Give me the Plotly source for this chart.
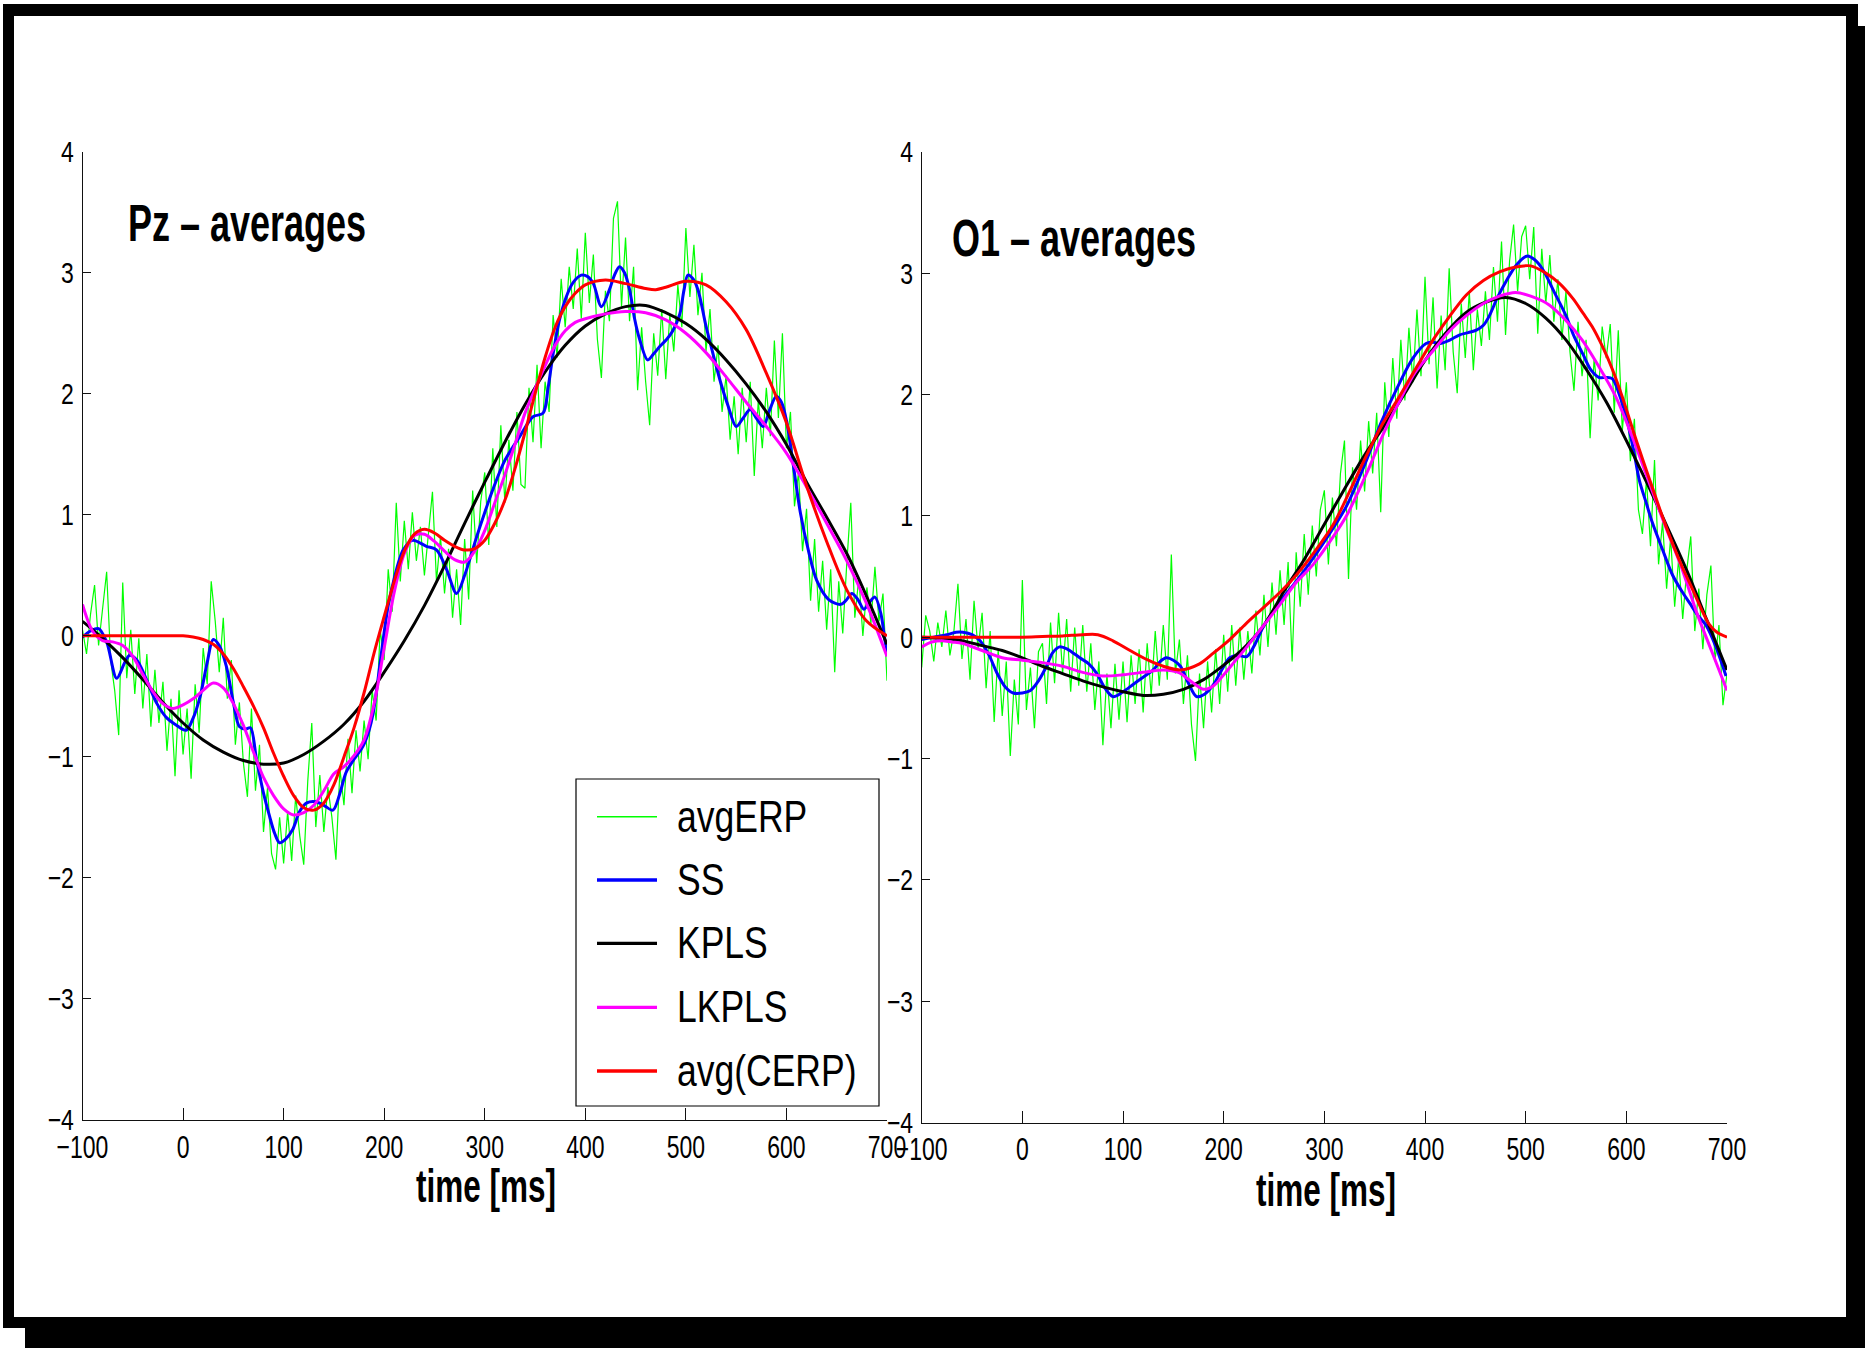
import numpy as np
import plotly.graph_objects as go

W, H = 1865, 1348
FONT = "Liberation Sans, Arial, Helvetica, sans-serif"

# ---------------------------------------------------------------- data
# averaged ERP is sampled every 4 ms from -100 to 700 ms
erp_t = np.arange(-100, 701, 4)

pz_erp = [
    0.05, -0.15, 0.18, 0.42, -0.08, 0.25, 0.53, -0.20, -0.45, -0.82,
    0.44, -0.35, 0.05, -0.48, -0.02, -0.60, -0.15, -0.75, -0.28, -0.72,
    -0.38, -0.95, -0.52, -1.16, -0.45, -0.98, -0.60, -1.18, -0.40, -0.80,
    -0.10, -0.40, 0.45, 0.12, -0.30, 0.15, -0.52, -0.20, -0.90, -0.55,
    -1.05, -1.33, -0.60, -1.28, -0.90, -1.62, -1.25, -1.80, -1.93, -1.50,
    -1.88, -1.45, -1.86, -1.32, -1.65, -1.89, -1.20, -0.72, -1.58, -1.15,
    -1.62, -1.25, -1.50, -1.85, -1.10, -1.40, -0.85, -1.30, -0.78, -1.12,
    -0.70, -1.02, -0.45, -0.70, 0.05, -0.20, 0.55, 0.20, 1.10, 0.45,
    0.95, 0.55, 1.02, 0.62, 0.90, 0.50, 0.88, 1.19, 0.45, 0.82,
    0.35, 0.72, 0.15, 0.55, 0.09, 0.80, 0.30, 1.20, 0.60, 1.11,
    1.35, 0.75, 1.55, 0.90, 1.74, 1.10, 1.62, 1.20, 1.85, 1.25,
    1.22, 2.05, 1.60, 2.24, 1.55, 2.10, 1.85, 2.65, 2.30, 2.95,
    2.55, 3.05, 2.70, 3.20, 2.62, 3.33, 2.75, 3.15, 2.45, 2.13,
    2.85, 2.60, 3.45, 3.59, 2.72, 3.29, 2.60, 3.05, 2.03, 2.55,
    2.10, 1.74, 2.50, 2.15, 2.70, 2.12, 2.65, 2.35, 2.90, 2.55,
    3.37, 2.80, 3.23, 2.65, 3.00, 2.35, 2.70, 2.10, 2.40, 1.85,
    2.15, 1.62, 1.98, 1.50, 2.05, 1.60, 2.10, 1.32, 1.95, 1.55,
    2.05, 1.65, 2.44, 1.80, 2.50, 1.55, 1.85, 1.07, 1.35, 0.70,
    1.05, 0.29, 0.80, 0.20, 0.62, 0.05, 0.55, -0.30, 0.45, 0.02,
    0.60, 1.10, 0.15, 0.48, 0.00, 0.40, 0.10, 0.57, 0.12, 0.35,
    -0.37,
]

o1_erp = [
    -0.25, 0.18, 0.05, -0.20, 0.12, -0.08, 0.22, -0.15, 0.05, 0.44,
    -0.18, 0.15, -0.35, 0.30, -0.10, 0.20, -0.42, 0.05, -0.70, -0.10,
    -0.65, -0.20, -0.98, -0.35, -0.72, 0.47, -0.60, -0.25, -0.75, -0.12,
    -0.05, -0.55, 0.12, -0.38, 0.20, -0.30, 0.15, -0.45, 0.08, -0.40,
    0.10, -0.45, -0.05, -0.60, -0.20, -0.89, -0.30, -0.75, -0.22, -0.68,
    -0.20, -0.70, -0.15, -0.55, -0.10, -0.62, -0.05, -0.48, 0.05, -0.40,
    0.10, -0.35, 0.68, -0.30, -0.02, -0.55, -0.15, -0.72, -1.02, -0.30,
    -0.75, -0.20, -0.62, -0.10, -0.55, 0.02, -0.45, 0.10, -0.40, 0.08,
    -0.35, 0.05, -0.30, 0.22, -0.15, 0.35, -0.08, 0.45, 0.02, 0.55,
    0.10, 0.62, -0.20, 0.70, 0.25, 0.85, 0.35, 0.92, 0.50, 1.05,
    1.21, 0.60, 1.15, 0.75, 1.35, 1.62, 0.48, 1.40, 1.05, 1.62,
    1.20, 1.78, 1.35, 1.85, 1.03, 2.10, 1.65, 2.30, 1.80, 2.45,
    1.95, 2.55, 2.10, 2.70, 2.15, 2.97, 2.25, 2.80, 2.05, 2.65,
    2.20, 3.04, 2.35, 2.01, 2.75, 2.30, 2.85, 2.20, 2.70, 2.40,
    2.85, 2.45, 3.05, 2.60, 3.26, 2.49, 3.10, 3.40, 2.85, 3.30,
    3.39, 2.95, 3.38, 2.50, 3.20, 2.75, 3.15, 2.60, 2.95, 2.45,
    2.85, 2.35, 2.03, 2.60, 2.15, 2.45, 1.64, 2.30, 1.95, 2.56,
    2.30, 2.58, 1.85, 2.53, 1.70, 2.10, 1.45, 1.80, 1.05, 0.85,
    1.30, 0.75, 1.46, 0.60, 0.95, 0.40, 0.82, 0.25, 0.65, 0.15,
    0.55, 0.83, 0.05, 0.40, -0.10, 0.35, 0.59, -0.20, 0.10, -0.56,
    -0.30,
]

# Pz estimates
pz_ss_t = [-100, -92, -84, -76, -66, -58, -53, -46, -38, -26, -16, -8, 3, 10,
           17, 24, 30, 36, 43, 50, 56, 62, 67, 73, 80, 86, 91, 96, 102, 109,
           116, 123, 132, 140, 149, 156, 162, 170, 179, 185, 189, 194, 199,
           204, 209, 214, 219, 228, 242, 252, 262, 272, 280, 285, 292, 300,
           309, 320, 335, 348, 358, 363, 368, 374, 381, 388, 396, 402, 408,
           416, 424, 429, 434, 439, 444, 449, 454, 462, 468, 474, 481, 487,
           494, 498, 502, 507, 512, 520, 527, 534, 542, 550, 557, 564, 570,
           577, 583, 590, 595, 600, 607, 614, 622, 630, 642, 654, 660, 665,
           671, 677, 682, 688, 694, 698, 701]
pz_ss = [-0.01, 0.04, 0.06, -0.05, -0.35, -0.22, -0.16, -0.20, -0.33, -0.56,
         -0.68, -0.73, -0.78, -0.68, -0.50, -0.22, -0.03, -0.08, -0.25, -0.55,
         -0.75, -0.77, -0.76, -1.02, -1.30, -1.49, -1.63, -1.71, -1.68, -1.60,
         -1.45, -1.38, -1.37, -1.40, -1.44, -1.30, -1.13, -1.02, -0.91, -0.78,
         -0.64, -0.35, -0.03, 0.25, 0.44, 0.60, 0.71, 0.79, 0.74, 0.71,
         0.55, 0.35, 0.50, 0.63, 0.82, 1.02, 1.23, 1.45, 1.65, 1.81,
         1.84, 2.05, 2.33, 2.60, 2.80, 2.92, 2.98, 2.97, 2.91, 2.72,
         2.86, 2.98, 3.05, 3.00, 2.86, 2.62, 2.45, 2.28, 2.33, 2.39,
         2.45, 2.52, 2.66, 2.85, 2.98, 2.95, 2.86, 2.56, 2.33, 2.11,
         1.90, 1.73, 1.80, 1.87, 1.80, 1.73, 1.86, 1.98, 1.93, 1.78,
         1.40, 1.01, 0.70, 0.46, 0.30, 0.26, 0.30, 0.35, 0.30, 0.22,
         0.27, 0.32, 0.18, -0.04, -0.15]

pz_kpls_t = list(range(-100, 701, 20))
pz_kpls = [0.12, -0.02, -0.18, -0.36, -0.55, -0.72, -0.86, -0.96, -1.03, -1.06,
           -1.05, -0.98, -0.87, -0.73, -0.54, -0.30, -0.04, 0.25, 0.58, 0.93,
           1.27, 1.60, 1.91, 2.18, 2.40, 2.56, 2.66, 2.72, 2.73, 2.67,
           2.58, 2.45, 2.28, 2.08, 1.85, 1.58, 1.27, 0.98, 0.68, 0.32,
           -0.07]

pz_lkpls_t = list(range(-100, 401, 10)) + list(range(420, 701, 20))
pz_lkpls = [0.26, 0.04, -0.04, -0.05, -0.08, -0.17, -0.32, -0.46, -0.56, -0.60,
            -0.57, -0.52, -0.45, -0.39, -0.43, -0.56, -0.74, -0.96, -1.17, -1.32,
            -1.43, -1.48, -1.46, -1.40, -1.28, -1.14, -1.08, -0.99, -0.86, -0.56,
            -0.10, 0.36, 0.68, 0.83, 0.84, 0.78, 0.70, 0.63, 0.61, 0.70,
            0.87, 1.10, 1.33, 1.58, 1.84, 2.04, 2.23, 2.40, 2.52, 2.59,
            2.62, 2.66, 2.68, 2.67, 2.61, 2.50, 2.34, 2.14, 1.93, 1.73,
            1.51, 1.23, 0.93, 0.62, 0.26, -0.17]

pz_cerp_t = ([-100, -80, -60, -40, -20, 0] + list(range(10, 401, 10))
             + [420, 440, 460, 470, 480, 500, 520, 540, 560, 580, 600, 620,
                640, 660, 680, 700])
pz_cerp = [0, 0, 0, 0, 0, 0,
           -0.01, -0.03, -0.07, -0.15, -0.27, -0.42, -0.58, -0.76, -0.97, -1.16,
           -1.32, -1.42, -1.44, -1.38, -1.23, -1.00, -0.76, -0.47, -0.14, 0.16,
           0.45, 0.70, 0.84, 0.88, 0.85, 0.79, 0.74, 0.71, 0.72, 0.79,
           0.93, 1.12, 1.38, 1.68, 2.00, 2.30, 2.55, 2.72, 2.83, 2.90,
           2.94, 2.91, 2.87, 2.86, 2.88, 2.93, 2.90, 2.76, 2.53, 2.17,
           1.76, 1.24, 0.78, 0.38, 0.12, 0.00]

# O1 estimates
o1_ss_t = [-100, -88, -75, -66, -59, -50, -42, -33, -25, -17, -9, 0, 8, 16, 24,
           30, 37, 45, 57, 66, 74, 82, 90, 100, 110, 120, 130, 137, 143, 150,
           157, 165, 173, 181, 190, 198, 206, 214, 223, 231, 239, 255, 272,
           288, 305, 322, 340, 357, 375, 388, 401, 408, 415, 425, 434, 443,
           451, 458, 464, 472, 481, 491, 501, 509, 517, 528, 540, 548, 557,
           565, 573, 580, 586, 593, 600, 607, 613, 620, 626, 636, 646, 655,
           663, 671, 679, 689, 699]
o1_ss = [-0.02, 0.00, 0.02, 0.04, 0.04, 0.02, -0.03, -0.15, -0.30, -0.41,
         -0.46, -0.46, -0.44, -0.36, -0.24, -0.13, -0.08, -0.10, -0.17, -0.22,
         -0.30, -0.42, -0.49, -0.45, -0.39, -0.33, -0.27, -0.20, -0.17, -0.19,
         -0.24, -0.38, -0.49, -0.47, -0.39, -0.27, -0.17, -0.15, -0.16, -0.06,
         0.08, 0.28, 0.46, 0.64, 0.85, 1.08, 1.42, 1.78, 2.10, 2.30,
         2.42, 2.43, 2.42, 2.45, 2.49, 2.51, 2.53, 2.57, 2.65, 2.80,
         2.94, 3.07, 3.14, 3.11, 3.03, 2.85, 2.65, 2.48, 2.33, 2.20,
         2.14, 2.14, 2.13, 2.00, 1.81, 1.55, 1.29, 1.10, 0.94, 0.72,
         0.51, 0.38, 0.28, 0.18, 0.10, -0.08, -0.32]

o1_kpls_t = list(range(-100, 701, 20))
o1_kpls = [0.00, -0.01, -0.03, -0.07, -0.11, -0.17, -0.24, -0.30, -0.36, -0.41,
           -0.45, -0.48, -0.47, -0.43, -0.35, -0.23, -0.09, 0.10, 0.38, 0.64,
           0.93, 1.22, 1.50, 1.75, 2.01, 2.28, 2.50, 2.67, 2.76, 2.80,
           2.75, 2.63, 2.45, 2.21, 1.94, 1.62, 1.28, 0.92, 0.55, 0.14,
           -0.27]

o1_lkpls_t = [-100, -90, -80, -70, -60, -40, -20, 0, 20, 40, 60, 80, 100, 120,
              140, 155, 170, 180, 190, 200, 210, 223, 240, 256, 272, 289, 309,
              322, 342, 360, 375, 390, 408, 425, 441, 458, 474, 490, 505, 523,
              540, 556, 572, 589, 605, 622, 638, 655, 670, 685, 700]
o1_lkpls = [-0.08, -0.04, -0.03, -0.04, -0.05, -0.11, -0.17, -0.19, -0.21, -0.24,
            -0.29, -0.32, -0.31, -0.29, -0.27, -0.29, -0.38, -0.43, -0.40, -0.31,
            -0.21, -0.08, 0.10, 0.27, 0.45, 0.60, 0.83, 1.00, 1.35, 1.70,
            1.95, 2.18, 2.36, 2.53, 2.65, 2.75, 2.81, 2.84, 2.81, 2.74,
            2.61, 2.45, 2.24, 1.99, 1.67, 1.29, 0.93, 0.57, 0.20, -0.12,
            -0.44]

o1_cerp_t = [-100, -80, -60, -40, -20, 0, 20, 40, 60, 75, 90, 107, 125, 140,
             157, 176, 190, 206, 222, 239, 256, 272, 290, 309, 325, 342, 358,
             375, 392, 408, 425, 441, 458, 474, 490, 505, 520, 533, 547, 557,
             566, 576, 586, 596, 606, 616, 626, 636, 646, 656, 666, 674, 682,
             690, 700]
o1_cerp = [0, 0, 0, 0, 0, 0, 0.005, 0.01, 0.02, 0.02,
           -0.03, -0.11, -0.19, -0.24, -0.27, -0.22, -0.13, -0.02, 0.11, 0.24,
           0.37, 0.51, 0.70, 0.93, 1.20, 1.50, 1.76, 1.99, 2.23, 2.45,
           2.65, 2.82, 2.94, 3.01, 3.05, 3.06, 3.00, 2.92, 2.79, 2.67,
           2.56, 2.40, 2.21, 1.98, 1.72, 1.47, 1.23, 0.99, 0.77, 0.57,
           0.39, 0.24, 0.11, 0.04, 0.00]

series_names = ["avgERP", "SS", "KPLS", "LKPLS", "avg(CERP)"]
series_colors = ["#00ff00", "#0000ff", "#000000", "#ff00ff", "#ff0000"]
series_widths = [1.2, 3.0, 3.0, 3.0, 3.0]

x_ticks = list(range(-100, 701, 100))
y_ticks = list(range(-4, 5))

panel_titles = ["Pz \u2013 averages", "O1 \u2013 averages"]
x_title = "time [ms]"

# ---------------------------------------------------------------- figure
def px(x):
    return x / W


def py(y):
    return 1 - y / H


fig = go.Figure()

panels = [
    ("x", "y", pz_erp, (pz_ss_t, pz_ss), (pz_kpls_t, pz_kpls),
     (pz_lkpls_t, pz_lkpls), (pz_cerp_t, pz_cerp)),
    ("x2", "y2", o1_erp, (o1_ss_t, o1_ss), (o1_kpls_t, o1_kpls),
     (o1_lkpls_t, o1_lkpls), (o1_cerp_t, o1_cerp)),
]

for xa, ya, erp, ss, kpls, lkpls, cerp in panels:
    curves = [(erp_t, erp), ss, kpls, lkpls, cerp]
    for i, (tt, vv) in enumerate(curves):
        fig.add_trace(go.Scatter(
            x=list(tt), y=vv, xaxis=xa, yaxis=ya, mode="lines",
            name=series_names[i], showlegend=False,
            line=dict(color=series_colors[i], width=series_widths[i],
                      shape="linear" if i == 0 else "spline", smoothing=0.9),
            hoverinfo="skip",
        ))

axis_common = dict(
    showline=True, linecolor="#111", linewidth=1, ticks="inside",
    tickcolor="#111", tickwidth=1, showgrid=False, zeroline=False,
    automargin=False,
)
xfont = dict(family=FONT, size=23, color="black")
yfont = dict(family=FONT, size=23, color="black")

fig.update_layout(
    template="none",
    width=W, height=H, autosize=False,
    margin=dict(l=0, r=0, t=0, b=0, pad=0, autoexpand=False),
    paper_bgcolor="white", plot_bgcolor="rgba(0,0,0,0)",
    showlegend=False,
    xaxis=dict(domain=[px(82.5), px(887)], range=[-100, 700], anchor="y",
               tickvals=x_ticks, ticklen=12, ticklabelstandoff=6,
               tickfont=xfont, **axis_common),
    yaxis=dict(domain=[py(1120), py(151.7)], range=[-4, 4], anchor="x",
               tickvals=y_ticks, ticklen=8, ticklabelstandoff=3,
               tickfont=yfont, **axis_common),
    xaxis2=dict(domain=[px(921.7), px(1727)], range=[-100, 700], anchor="y2",
                tickvals=x_ticks, ticklen=12, ticklabelstandoff=6,
                tickfont=xfont, **axis_common),
    yaxis2=dict(domain=[py(1122.5), py(151.8)], range=[-4, 4], anchor="x2",
                tickvals=y_ticks, ticklen=8, ticklabelstandoff=3,
                tickfont=yfont, **axis_common),
)

# page frame with a drop shadow
shapes = [
    dict(type="rect", xref="paper", yref="paper", x0=px(25), x1=1.0,
         y0=0.0, y1=py(26), fillcolor="black", line=dict(width=0), layer="below"),
    dict(type="rect", xref="paper", yref="paper", x0=px(3), x1=px(1858),
         y0=py(1328), y1=py(4), fillcolor="black", line=dict(width=0), layer="below"),
    dict(type="rect", xref="paper", yref="paper", x0=px(14), x1=px(1846),
         y0=py(1317), y1=py(16), fillcolor="white", line=dict(width=0), layer="below"),
    # legend box
    dict(type="rect", xref="paper", yref="paper", x0=px(576), x1=px(879),
         y0=py(1106), y1=py(779), fillcolor="white",
         line=dict(color="black", width=1.2), layer="above"),
]
legend_rows = [816.7, 880.0, 943.3, 1007.3, 1071.0]
for name, color, width, ry in zip(series_names, series_colors, series_widths, legend_rows):
    shapes.append(dict(type="line", xref="paper", yref="paper",
                       x0=px(597), x1=px(657), y0=py(ry), y1=py(ry),
                       line=dict(color=color, width=width + 0.3), layer="above"))
fig.update_layout(shapes=shapes)

annotations = [
    dict(text=panel_titles[0], x=px(126), y=py(223), xanchor="left", yanchor="middle",
         font=dict(family=FONT, size=36, color="black", weight="bold")),
    dict(text=panel_titles[1], x=px(950), y=py(238), xanchor="left", yanchor="middle",
         font=dict(family=FONT, size=36, color="black", weight="bold")),
    dict(text=x_title, x=px(485.5), y=py(1186), xanchor="center", yanchor="middle",
         font=dict(family=FONT, size=31.5, color="black", weight="bold")),
    dict(text=x_title, x=px(1325.5), y=py(1190), xanchor="center", yanchor="middle",
         font=dict(family=FONT, size=31.5, color="black", weight="bold")),
]
for name, ry in zip(series_names, legend_rows):
    annotations.append(dict(text=name, x=px(675), y=py(ry), xanchor="left",
                            yanchor="middle",
                            font=dict(family=FONT, size=35.5, color="black")))
for a in annotations:
    a.update(xref="paper", yref="paper", showarrow=False)
fig.update_layout(annotations=annotations)

# tall, narrow lettering: stretch every text element vertically about its centre
post = """
(function(){
  var gd = document.querySelector('.js-plotly-plot');
  function stretch(el, k){
    var cur = el.getAttribute('transform') || '';
    if (cur !== '' && el.getAttribute('data-st') === cur) return;
    var b = el.getBBox();
    var cy = b.y + b.height / 2;
    var nt = cur + ' translate(0,' + cy + ') scale(1,' + k + ') translate(0,' + (-cy) + ')';
    el.setAttribute('transform', nt);
    el.setAttribute('data-st', nt);
  }
  function run(){
    gd.querySelectorAll('.xtick text, .x2tick text').forEach(function(t){ stretch(t, 1.4); });
    gd.querySelectorAll('.ytick text, .y2tick text').forEach(function(t){ stretch(t, 1.3); });
    gd.querySelectorAll('.annotation-text').forEach(function(t){
      var s = t.textContent;
      var k = s.indexOf('averages') >= 0 ? 1.43 : (s.indexOf('time') >= 0 ? 1.45 : 1.25);
      stretch(t, k);
    });
  }
  run();
  setTimeout(run, 50);
  setTimeout(run, 300);
  setTimeout(run, 1000);
  if (gd.on) { gd.on('plotly_afterplot', run); }
})();
"""

fig.write_html("out.html", post_script=post, config={"displayModeBar": False})
